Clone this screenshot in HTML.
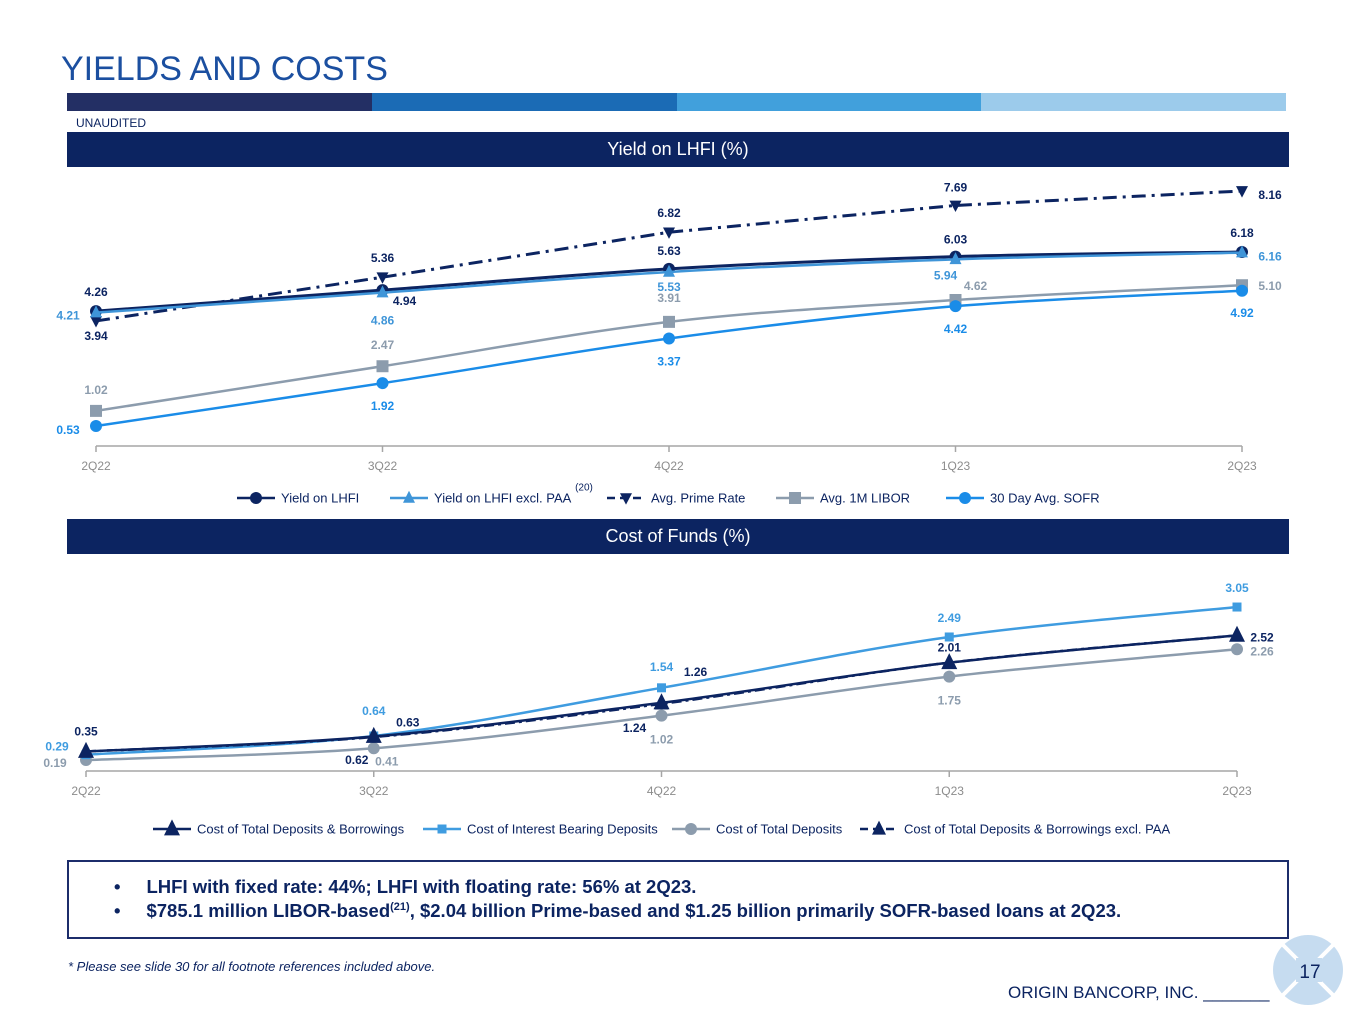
<!DOCTYPE html>
<html><head><meta charset="utf-8"><style>
body{margin:0;width:1365px;height:1024px;background:#fff;font-family:"Liberation Sans",sans-serif;overflow:hidden;position:relative}
.abs{position:absolute}
.band{position:absolute;left:67px;width:1222px;height:35px;background:#0c2461;color:#fff;font-size:18px;text-align:center;line-height:35px}
svg{position:absolute;left:0;top:0}
</style></head><body>
<div class="abs" style="left:61px;top:50px;font-size:34px;color:#1b4fa0">YIELDS AND COSTS</div>
<div class="abs" style="left:67px;top:93px;width:1219px;height:18px;display:flex">
<div style="flex:1;background:#232f64"></div><div style="flex:1;background:#1b6bb5"></div><div style="flex:1;background:#41a0dc"></div><div style="flex:1;background:#9ccbeb"></div></div>
<div class="abs" style="left:76px;top:116px;font-size:12px;color:#0c2461">UNAUDITED</div>
<div class="band" style="top:132px">Yield on LHFI (%)</div>
<div class="band" style="top:519px">Cost of Funds (%)</div>
<svg id="chart" width="1365" height="1024"></svg>
<div class="abs" style="left:67px;top:860px;width:1218px;height:75px;border:2px solid #1c2d6b;color:#0c2461;font-weight:bold;font-size:18.5px">
<div style="position:absolute;left:45px;top:14px;white-space:nowrap">•<span style="margin-left:26px">LHFI with fixed rate: 44%; LHFI with floating rate: 56% at 2Q23.</span></div>
<div style="position:absolute;left:45px;top:38px;white-space:nowrap">•<span style="margin-left:26px">$785.1 million LIBOR-based<sup style="font-size:11px">(21)</sup>, $2.04 billion Prime-based and $1.25 billion primarily SOFR-based loans at 2Q23.</span></div>
</div>
<div class="abs" style="left:68px;top:959px;font-size:13px;font-style:italic;color:#0c2461">* Please see slide 30 for all footnote references included above.</div>
<div class="abs" style="left:1008px;top:983px;font-size:17px;color:#0c2461">ORIGIN BANCORP, INC. _______</div>
<svg width="80" height="80" style="left:1268px;top:930px">
<circle cx="40" cy="40" r="35" fill="#c6dcf0"/><line x1="14" y1="14" x2="66" y2="66" stroke="#fff" stroke-width="4"/><line x1="66" y1="14" x2="14" y2="66" stroke="#fff" stroke-width="4"/>
<rect x="28" y="28" width="26" height="24" fill="#c6dcf0"/>
<text x="42" y="48" font-size="19" text-anchor="middle" fill="#0c2461" font-family="Liberation Sans">17</text></svg>
<script>
const qtrs=['2Q22','3Q22','4Q22','1Q23','2Q23'];
const yieldLHFI=[4.26,4.94,5.63,6.03,6.18];
const yieldExclPAA=[4.21,4.86,5.53,5.94,6.16];
const primeRate=[3.94,5.36,6.82,7.69,8.16];
const libor1M=[1.02,2.47,3.91,4.62,5.10];
const sofr30=[0.53,1.92,3.37,4.42,4.92];
const costDepBorr=[0.35,0.63,1.26,2.01,2.52];
const costIntBearing=[0.29,0.64,1.54,2.49,3.05];
const costTotalDep=[0.19,0.41,1.02,1.75,2.26];
const costDepBorrExcl=[0.35,0.62,1.24,2.01,2.52];

const S=document.getElementById('chart');
const NS='http://www.w3.org/2000/svg';
function mk(t,a,p){const e=document.createElementNS(NS,t);for(const k in a)e.setAttribute(k,a[k]);(p||S).appendChild(e);return e;}
function txt(x,y,s,a){const e=mk('text',Object.assign({x:x,y:y,'font-size':12,'font-family':'Liberation Sans','dominant-baseline':'central','text-anchor':'middle'},a));e.textContent=s;return e;}
function marker(type,x,y,c,r){
  if(type==='circle')return mk('circle',{cx:x,cy:y,r:r,fill:c});
  if(type==='square')return mk('rect',{x:x-r,y:y-r,width:2*r,height:2*r,fill:c});
  if(type==='tri')return mk('path',{d:`M${x} ${y-r*1.2}L${x+r} ${y+r*0.8}L${x-r} ${y+r*0.8}Z`,fill:c});
  if(type==='tridown')return mk('path',{d:`M${x} ${y+r*1.1}L${x+r} ${y-r*0.8}L${x-r} ${y-r*0.8}Z`,fill:c});
}
function smooth(pts,straight){
  if(straight)return 'M'+pts.map(p=>p.join(' ')).join('L');
  let d=`M${pts[0][0]} ${pts[0][1]}`;
  for(let i=0;i<pts.length-1;i++){
    const p0=pts[Math.max(0,i-1)],p1=pts[i],p2=pts[i+1],p3=pts[Math.min(pts.length-1,i+2)];
    const t=1/6;
    d+=`C${p1[0]+(p2[0]-p0[0])*t} ${p1[1]+(p2[1]-p0[1])*t} ${p2[0]-(p3[0]-p1[0])*t} ${p2[1]-(p3[1]-p1[1])*t} ${p2[0]} ${p2[1]}`;
  }
  return d;
}
function chart(cfg){
  const xs=i=>cfg.x0+i*cfg.dx;
  const ys=v=>cfg.yz-v*cfg.k;
  const ax=mk('path',{d:`M${xs(0)} ${cfg.axisY}H${xs(4)}`,stroke:'#a6a6a6','stroke-width':1.5,fill:'none'});
  
  
  qtrs.forEach((q,i)=>{
    mk('line',{x1:xs(i),x2:xs(i),y1:cfg.axisY,y2:cfg.axisY+6,stroke:'#a6a6a6','stroke-width':1.5});
    const t=txt(xs(i),cfg.axisY+20,q,{fill:'#8c8c8c'});
    
    
  });
  cfg.series.forEach(s=>{
    const pts=s.data.map((v,i)=>[xs(i),ys(v)]);
    const p=mk('path',{d:smooth(pts,s.straight),stroke:s.color,'stroke-width':s.w||2.5,fill:'none','stroke-dasharray':s.dash||'none'});
    
    
    pts.forEach((pt,i)=>{
      const m=marker(s.marker,pt[0],pt[1],s.color,s.r);
      
      
    });
  });
  cfg.series.forEach(s=>{
    s.data.forEach((v,i)=>{
      const o=s.off[i]; if(!o)return;
      const t=txt(xs(i)+o[0],ys(v)+o[1],v.toFixed(2),{fill:s.lcolor||s.color,'font-weight':'bold'});
      
      
    });
  });
  cfg.legend.forEach(l=>{
    const s=cfg.series[l.s];
    mk('line',{x1:l.x,x2:l.x+38,y1:cfg.legY,y2:cfg.legY,stroke:s.color,'stroke-width':2.5,'stroke-dasharray':s.dash?'8 5':'none'});
    marker(s.marker,l.x+19,cfg.legY,s.color,s.r);
    const t=txt(l.x+44,cfg.legY,l.t,{'text-anchor':'start',fill:'#0c2461','font-size':13});
    
    
  });
}
chart({name:'yield',x0:96,dx:286.5,yz:442.3,k:30.8,axisY:446,legY:498,
 series:[
  {name:'prime-rate',data:primeRate,color:'#0c2461',marker:'tridown',r:6,straight:true,dash:'14 6 3 6',w:3,off:[[0,15],[0,-19],[0,-19],[0,-18],[28,4]]},
  {name:'libor',data:libor1M,color:'#8c9cad',marker:'square',r:6,lcolor:'#8c9cad',off:[[0,-21],[0,-21],[0,-24],[20,-14],[28,1]]},
  {name:'sofr',data:sofr30,color:'#1a8ce8',marker:'circle',r:6,off:[[-28,4],[0,23],[0,23],[0,23],[0,22]]},
  {name:'yield-lhfi',data:yieldLHFI,color:'#0c2461',marker:'circle',r:6,w:3,off:[[0,-19],[22,11],[0,-18],[0,-17],[0,-19]]},
  {name:'yield-excl-paa',data:yieldExclPAA,color:'#3f95d8',marker:'tri',r:6,off:[[-28,3],[0,28],[0,15],[-10,16],[28,4]]}
 ],
 legend:[{s:3,x:237,t:'Yield on LHFI'},{s:4,x:390,t:'Yield on LHFI excl. PAA'},{s:0,x:607,t:'Avg. Prime Rate'},{s:1,x:776,t:'Avg. 1M LIBOR'},{s:2,x:946,t:'30 Day Avg. SOFR'}]
});
txt(584,488,'(20)',{'font-size':10,fill:'#0c2461'});
chart({name:'cost',x0:86,dx:287.75,yz:770.2,k:53.5,axisY:771,legY:829,
 series:[
  {name:'cost-total-deposits',data:costTotalDep,color:'#8c9cad',marker:'circle',r:6,off:[[-31,3],[13,13],[0,24],[0,24],[25,2]]},
  {name:'cost-interest-bearing',data:costIntBearing,color:'#3f9ce0',marker:'square',r:4.5,off:[[-29,-8],[0,-25],[0,-21],[0,-19],[0,-19]]},
  {name:'cost-dep-borr-excl-paa',data:costDepBorrExcl,color:'#0c2461',marker:'tri',r:7,dash:'10 4 3 4',off:[null,[-17,23],[-27,24],null,null]},
  {name:'cost-dep-borr',data:costDepBorr,color:'#0c2461',marker:'tri',r:8,w:2.5,off:[[0,-20],[34,-14],[34,-31],[0,-15],[25,2]]}
 ],
 legend:[{s:3,x:153,t:'Cost of Total Deposits & Borrowings'},{s:1,x:423,t:'Cost of Interest Bearing Deposits'},{s:0,x:672,t:'Cost of Total Deposits'},{s:2,x:860,t:'Cost of Total Deposits & Borrowings excl. PAA'}]
});
</script>
</body></html>
